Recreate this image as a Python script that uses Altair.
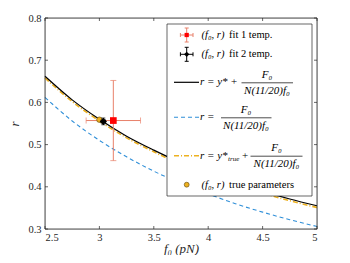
import altair as alt
import pandas as pd

# ---- data ----
f0_grid = [2.5, 2.75, 3.0, 3.25, 3.5, 3.75, 4.0, 4.25, 4.5, 4.75, 5.0]
r_fit = [0.662, 0.606, 0.560, 0.520, 0.487, 0.457, 0.432, 0.409, 0.389, 0.371, 0.355]
r_nooff = [0.612, 0.556, 0.510, 0.471, 0.437, 0.408, 0.383, 0.360, 0.340, 0.322, 0.306]
r_true = [0.658, 0.602, 0.556, 0.516, 0.483, 0.453, 0.428, 0.405, 0.385, 0.367, 0.351]

fit1_f0, fit1_r = [3.128], [0.557]
fit1_f0_err, fit1_r_err = [0.25], [0.095]
fit2_f0, fit2_r = [3.036], [0.555]
fit2_f0_err, fit2_r_err = [0.02], [0.008]
true_f0, true_r = [3.0], [0.559]

x_ticks = [2.5, 3.0, 3.5, 4.0, 4.5, 5.0]
y_ticks = [0.3, 0.4, 0.5, 0.6, 0.7, 0.8]

W, H = 272, 211
FONT = "Liberation Serif"
AX = "#262626"
RED_ERR = "#e8806a"
ORANGE = "#EDB120"
BLUE = "#2f8fd8"

xs = alt.Scale(domain=[2.5, 5.0], nice=False, zero=False)
ys = alt.Scale(domain=[0.3, 0.8], nice=False, zero=False)

curves = pd.DataFrame({"f0": f0_grid, "fit": r_fit, "nooff": r_nooff, "true": r_true})
base = alt.Chart(curves)

xax = alt.Axis(values=x_ticks, labelExpr="format(datum.value, '~g')", ticks=False,
               title="f₀ (pN)", titleFont=FONT, titleFontStyle="italic", titleFontWeight="normal",
               titleFontSize=13, titleColor=AX, titleY=26, titleBaseline="bottom",
               labelFont=FONT, labelFontSize=10.5, labelColor=AX, labelPadding=3, grid=False,
               domain=False)
yax = alt.Axis(values=y_ticks, labelExpr="format(datum.value, '.1f')", ticks=False,
               title="r", titleFont=FONT, titleFontStyle="italic", titleFontWeight="normal",
               titleFontSize=13, titleColor=AX, titlePadding=6,
               labelFont=FONT, labelFontSize=10.5, labelColor=AX, labelPadding=4, grid=False,
               domain=False)

line_nooff = base.mark_line(color=BLUE, strokeDash=[4, 3], strokeWidth=1.1, interpolate="monotone").encode(
    x=alt.X("f0:Q", scale=xs, axis=xax), y=alt.Y("nooff:Q", scale=ys, axis=yax))
line_true = base.mark_line(color=ORANGE, strokeDash=[5, 2, 1, 2], strokeWidth=1.6, interpolate="monotone").encode(
    x="f0:Q", y="true:Q")
line_fit = base.mark_line(color="black", strokeWidth=1.2, interpolate="monotone").encode(
    x="f0:Q", y="fit:Q")

def pts(f0, r, fe, re):
    return pd.DataFrame({"f0": f0, "r": r,
                         "flo": [a - b for a, b in zip(f0, fe)], "fhi": [a + b for a, b in zip(f0, fe)],
                         "rlo": [a - b for a, b in zip(r, re)], "rhi": [a + b for a, b in zip(r, re)]})

p1 = pts(fit1_f0, fit1_r, fit1_f0_err, fit1_r_err)
p2 = pts(fit2_f0, fit2_r, fit2_f0_err, fit2_r_err)

def errbars(df, color, cap):
    c = alt.Chart(df)
    return [
        c.mark_rule(color=color, strokeWidth=1).encode(x="flo:Q", x2="fhi:Q", y="r:Q"),
        c.mark_rule(color=color, strokeWidth=1).encode(x="f0:Q", y="rlo:Q", y2="rhi:Q"),
        c.mark_tick(color=color, orient="vertical", size=cap, thickness=1).encode(x="flo:Q", y="r:Q"),
        c.mark_tick(color=color, orient="vertical", size=cap, thickness=1).encode(x="fhi:Q", y="r:Q"),
        c.mark_tick(color=color, orient="horizontal", size=cap, thickness=1).encode(x="f0:Q", y="rlo:Q"),
        c.mark_tick(color=color, orient="horizontal", size=cap, thickness=1).encode(x="f0:Q", y="rhi:Q"),
    ]

err1 = errbars(p1, RED_ERR, 6)
sq1 = alt.Chart(p1).mark_point(shape="square", filled=True, color="#ff0000", size=45, opacity=1).encode(
    x="f0:Q", y="r:Q")
true_pt = alt.Chart(pd.DataFrame({"f0": true_f0, "r": true_r})).mark_point(
    shape="circle", filled=True, fill=ORANGE, stroke="#5a4000", strokeWidth=0.6, size=30, opacity=1).encode(
    x="f0:Q", y="r:Q")
err2 = errbars(p2, "black", 4)
dia2 = alt.Chart(p2).mark_point(shape="diamond", filled=True, color="black", size=55, opacity=1).encode(
    x="f0:Q", y="r:Q")

# ---- frame and inward ticks ----
one = pd.DataFrame({"a": [0]})
frame = alt.Chart(one).mark_rect(fill=None, stroke=AX, strokeWidth=0.8).encode(
    x=alt.value(0), x2=alt.value(W), y=alt.value(0), y2=alt.value(H))
xt = alt.Chart(pd.DataFrame({"t": x_ticks}))
yt = alt.Chart(pd.DataFrame({"t": y_ticks}))
tick_layers = [
    xt.mark_rule(color=AX, strokeWidth=0.7).encode(x=alt.X("t:Q", scale=xs), y=alt.value(H), y2=alt.value(H - 3)),
    xt.mark_rule(color=AX, strokeWidth=0.7).encode(x=alt.X("t:Q", scale=xs), y=alt.value(0), y2=alt.value(3)),
    yt.mark_rule(color=AX, strokeWidth=0.7).encode(y=alt.Y("t:Q", scale=ys), x=alt.value(0), x2=alt.value(3)),
    yt.mark_rule(color=AX, strokeWidth=0.7).encode(y=alt.Y("t:Q", scale=ys), x=alt.value(W), x2=alt.value(W - 3)),
]

# ---- custom legend ----
L = alt.Chart(one)
def txt(s, x, y, size=10.5, italic=False, align="left"):
    return L.mark_text(text=s, font=FONT, fontSize=size, fontStyle="italic" if italic else "normal",
                       align=align, baseline="middle", color="black").encode(x=alt.value(x), y=alt.value(y))
def hline(x1, x2, y, color="black", dash=None, w=1.0):
    kw = dict(color=color, strokeWidth=w)
    if dash:
        kw["strokeDash"] = dash
    return L.mark_rule(**kw).encode(x=alt.value(x1), x2=alt.value(x2), y=alt.value(y))
def vline(x, y1, y2, color, w=1.0):
    return L.mark_rule(color=color, strokeWidth=w).encode(x=alt.value(x), y=alt.value(y1), y2=alt.value(y2))
def sym(shape, x, y, fill, size, stroke=None):
    kw = dict(shape=shape, filled=True, fill=fill, size=size, opacity=1)
    if stroke:
        kw.update(stroke=stroke, strokeWidth=0.6)
    else:
        kw.update(strokeWidth=0)
    return L.mark_point(**kw).encode(x=alt.value(x), y=alt.value(y))
def errsym(x, y, color, hw, vh, cap):
    return [hline(x - hw, x + hw, y, color), vline(x, y - vh, y + vh, color),
            vline(x - hw, y - cap, y + cap, color), vline(x + hw, y - cap, y + cap, color),
            hline(x - cap, x + cap, y - vh, color), hline(x - cap, x + cap, y + vh, color)]

lx1, lx2, ly1, ly2 = 122, 267, 6, 178
leg = [L.mark_rect(fill="white", stroke=AX, strokeWidth=0.7).encode(
    x=alt.value(lx1), x2=alt.value(lx2), y=alt.value(ly1), y2=alt.value(ly2))]
mx = 141.7
FS = 11
# row 1
leg += errsym(mx, 17, RED_ERR, 6.3, 7, 2)
leg += [sym("square", mx, 17, "#ff0000", 18)]
leg += [txt("(f₀, r)", 156.5, 17, italic=True), txt("fit 1 temp.", 184, 17)]
# row 2
leg += errsym(mx, 36.3, "black", 6.3, 7, 2)
leg += [sym("diamond", mx, 36.3, "black", 28)]
leg += [txt("(f₀, r)", 156.5, 36.3, italic=True), txt("fit 2 temp.", 184, 36.3)]
# row 3
leg += [hline(129, 154, 64.3, "black", w=1.2), txt("r = y* +", 155, 64.3, size=FS, italic=True),
        txt("F₀", 222, 57.3, size=FS, italic=True, align="center"), hline(196.5, 248, 64.8, "black", w=0.7),
        txt("N(11/20)f₀", 222, 72.7, size=FS, italic=True, align="center")]
# row 4
leg += [hline(129, 154, 99.3, BLUE, dash=[4, 3], w=1.1), txt("r =", 155, 99.3, size=FS, italic=True),
        txt("F₀", 201, 92.3, size=FS, italic=True, align="center"), hline(176, 226.5, 99.8, "black", w=0.7),
        txt("N(11/20)f₀", 201, 107.7, size=FS, italic=True, align="center")]
# row 5
leg += [hline(129, 154, 137.7, ORANGE, dash=[5, 2, 1, 2], w=1.4), txt("r = y*", 155, 137.7, size=FS, italic=True),
        txt("true", 183, 141, size=7, italic=True), txt("+", 197, 137.7, size=FS),
        txt("F₀", 231.5, 130.3, size=FS, italic=True, align="center"), hline(205.5, 257.5, 138.2, "black", w=0.7),
        txt("N(11/20)f₀", 231.5, 145.7, size=FS, italic=True, align="center")]
# row 6
leg += [sym("circle", mx, 166.7, ORANGE, 24, stroke="#5a4000"),
        txt("(f₀, r)", 156.5, 166.7, italic=True), txt("true parameters", 184, 166.7)]

chart = alt.layer(
    line_nooff, line_true, line_fit, *err1, sq1, true_pt, *err2, dia2,
    frame, *tick_layers, *leg
).properties(
    width=W, height=H,
    autosize=alt.AutoSizeParams(type="none"),
    padding={"left": 37, "top": 10, "right": 25, "bottom": 26},
).configure_view(stroke=None).configure(background="white")

chart.save("out.html", embed_options={"renderer": "svg", "actions": False})
